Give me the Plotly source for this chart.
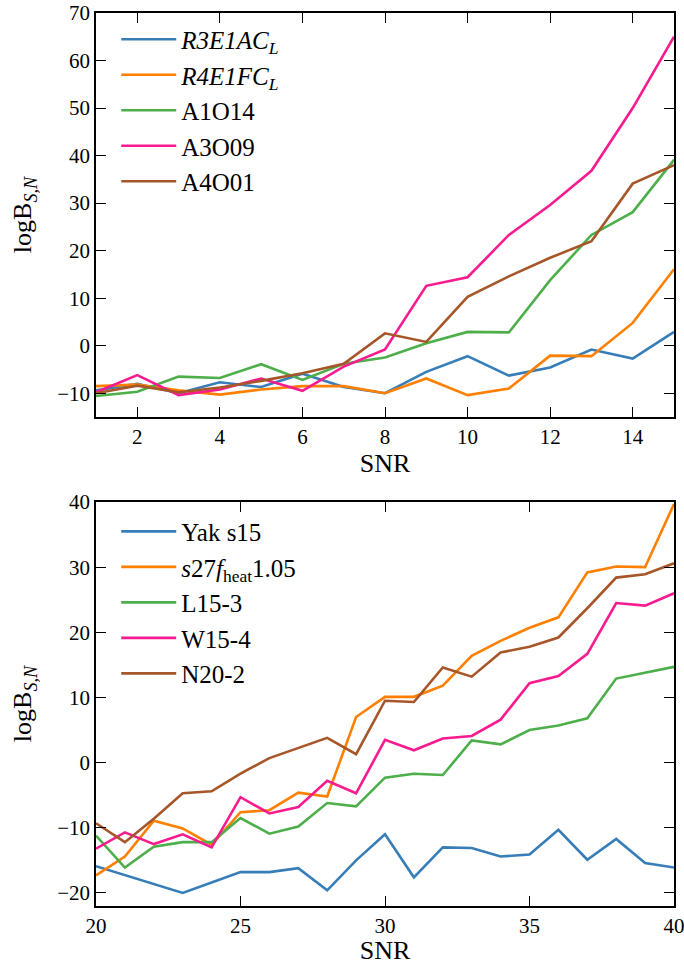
import plotly.graph_objects as go

# top panel: SNR 1..15
snr_top = list(range(1, 16))
r3e1ac = [-9.4, -8.0, -10.0, -7.7, -8.7, -5.9, -8.7, -10.0, -5.5, -2.2, -6.3, -4.6, -0.8, -2.7, 2.9]
r4e1fc = [-8.5, -8.2, -9.4, -10.3, -9.2, -8.5, -8.5, -10.0, -6.9, -10.4, -9.0, -2.1, -2.2, 4.8, 16.1]
a1o14 = [-10.6, -9.7, -6.5, -6.8, -3.9, -7.2, -3.8, -2.5, 0.5, 2.9, 2.8, 13.8, 23.3, 28.1, 39.1]
a3o09 = [-9.8, -6.2, -10.4, -9.2, -6.9, -9.5, -4.4, -0.8, 12.6, 14.4, 23.3, 29.6, 36.8, 50.0, 65.0]
a4o01 = [-10.0, -8.4, -9.8, -8.8, -7.4, -5.8, -3.8, 2.6, 0.8, 10.3, 14.6, 18.5, 22.0, 34.1, 38.0]

# bottom panel: SNR 20..40
snr_bot = list(range(20, 41))
yak_s15 = [-15.9, -17.3, -18.6, -20.0, -18.4, -16.8, -16.8, -16.2, -19.6, -15.0, -11.0,
           -17.6, -13.0, -13.1, -14.4, -14.1, -10.3, -14.9, -11.7, -15.4, -16.1]
s27 = [-17.3, -14.4, -8.9, -10.1, -12.6, -7.6, -7.3, -4.6, -5.2, 7.0, 10.1,
       10.1, 11.8, 16.4, 18.7, 20.7, 22.3, 29.2, 30.1, 30.0, 39.7]
l15_3 = [-11.2, -16.1, -12.9, -12.2, -12.2, -8.5, -10.9, -9.8, -6.2, -6.7, -2.3,
         -1.7, -1.9, 3.4, 2.8, 5.0, 5.7, 6.8, 12.9, 13.8, 14.7]
w15_4 = [-13.2, -10.7, -12.5, -11.0, -13.0, -5.3, -7.8, -6.8, -2.8, -4.7, 3.5,
         1.9, 3.7, 4.1, 6.6, 12.2, 13.3, 16.7, 24.5, 24.1, 26.0]
n20_2 = [-9.3, -12.2, -8.6, -4.7, -4.4, -1.7, 0.7, 2.3, 3.8, 1.3, 9.5,
         9.3, 14.6, 13.2, 16.9, 17.8, 19.2, 23.7, 28.4, 28.9, 30.6]

top_names = ["<i>R3E1AC<sub>L</sub></i>", "<i>R4E1FC<sub>L</sub></i>", "A1O14", "A3O09", "A4O01"]
bot_names = ["Yak s15", "<i>s</i>27<i>f</i><sub>heat</sub>1.05", "L15-3", "W15-4", "N20-2"]
colors = ["#377eb8", "#ff7f00", "#4daf4a", "#f81b8f", "#a65628"]

FONT = "Liberation Serif"

fig = go.Figure()

for i, (name, ys) in enumerate(zip(top_names, [r3e1ac, r4e1fc, a1o14, a3o09, a4o01])):
    fig.add_trace(go.Scatter(
        x=snr_top, y=ys, name=name, mode="lines",
        line=dict(color=colors[i], width=2.6),
        xaxis="x", yaxis="y", legend="legend", legendgroup="t%d" % i,
    ))

for i, (name, ys) in enumerate(zip(bot_names, [yak_s15, s27, l15_3, w15_4, n20_2])):
    fig.add_trace(go.Scatter(
        x=snr_bot, y=ys, name=name, mode="lines",
        line=dict(color=colors[i], width=2.6),
        xaxis="x2", yaxis="y2", legend="legend2", legendgroup="b%d" % i,
    ))

axis_style = dict(
    showline=True, linecolor="black", linewidth=1.6, mirror="ticks",
    ticks="inside", ticklen=10, tickwidth=1.4, tickcolor="black",
    showgrid=False, zeroline=False, automargin=False,
    ticklabeloverflow="allow",
    tickfont=dict(family=FONT, size=21, color="black"),
)
title_font = dict(family=FONT, size=26, color="black")

legend_style = dict(
    font=dict(family=FONT, size=25, color="black"),
    bgcolor="rgba(0,0,0,0)", borderwidth=0,
    traceorder="grouped", tracegroupgap=0,
    xanchor="left", yanchor="top", itemwidth=55,
)

fig.update_layout(
    width=684, height=965,
    margin=dict(l=96, r=10, t=13, b=59),
    paper_bgcolor="white", plot_bgcolor="white",
    font=dict(family=FONT, color="black"),
    showlegend=True,
    xaxis=dict(axis_style, domain=[0, 1], anchor="y", range=[1, 15], dtick=2,
               title=dict(text="SNR", font=title_font, standoff=2)),
    yaxis=dict(axis_style, domain=[0.5476, 1.0], anchor="x", range=[-15, 70], dtick=10,
               title=dict(text="logB<sub><i>S,N</i></sub>", font=title_font, standoff=18)),
    xaxis2=dict(axis_style, domain=[0, 1], anchor="y2", range=[20, 40], dtick=5,
                title=dict(text="SNR", font=title_font, standoff=2)),
    yaxis2=dict(axis_style, domain=[0, 0.4524], anchor="x2", range=[-22, 40], dtick=10,
                title=dict(text="logB<sub><i>S,N</i></sub>", font=title_font, standoff=18)),
    legend=dict(legend_style, x=0.035, y=0.996),
    legend2=dict(legend_style, x=0.035, y=0.445),
)

# drop the default body margin so the figure fills the window exactly
fig.write_html(
    "out.html",
    config={"displayModeBar": False},
    post_script="document.body.style.margin = '0';",
)
